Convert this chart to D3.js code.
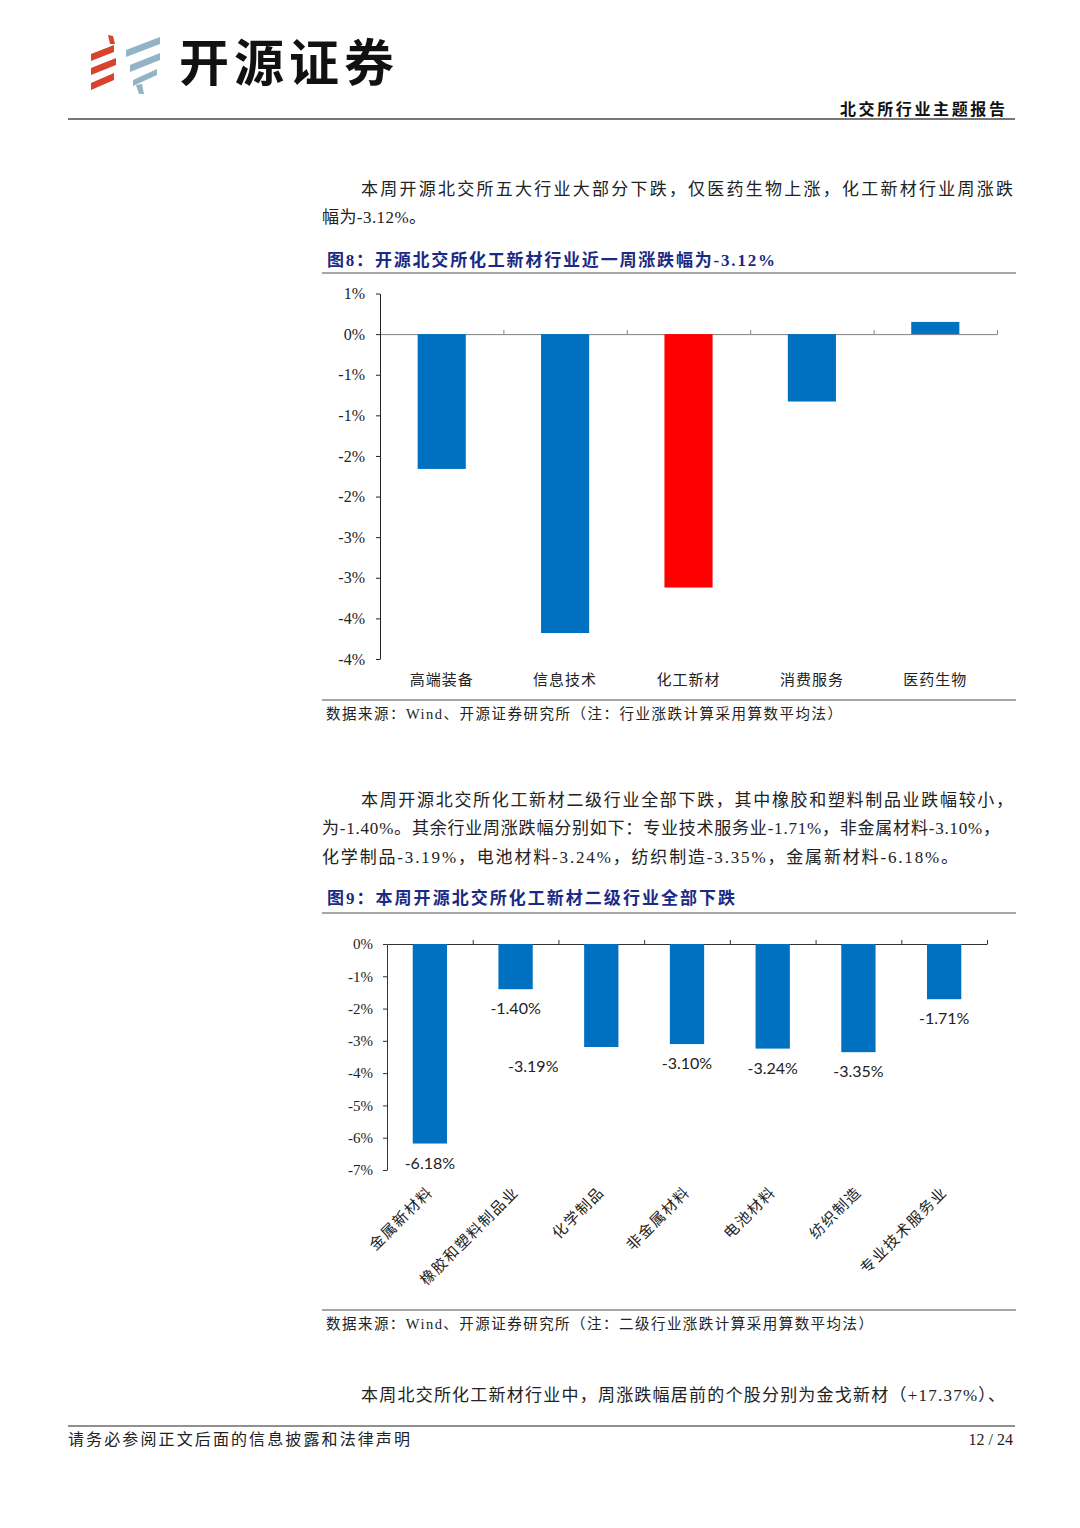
<!DOCTYPE html>
<html>
<head>
<meta charset="utf-8">
<script src="https://cdn.jsdelivr.net/npm/d3@7.9.0/dist/d3.min.js"></script>
<style>
  html, body { margin: 0; padding: 0; background: #fff; }
  svg { display: block; }
</style>
</head>
<body>
<svg id="page" width="1080" height="1528"></svg>
<script>
// chart 8: five sectors, weekly change in %
const sectors = ['高端装备', '信息技术', '化工新材', '消费服务', '医药生物'];
const sectorChange = [-1.66, -3.68, -3.12, -0.83, 0.15];
const sectorTicks = [0.5, 0, -0.5, -1, -1.5, -2, -2.5, -3, -3.5, -4];

// chart 9: sub-sectors of 化工新材, weekly change in %
const subSectors = ['金属新材料', '橡胶和塑料制品业', '化学制品', '非金属材料', '电池材料', '纺织制造', '专业技术服务业'];
const subChange = [-6.18, -1.40, -3.19, -3.10, -3.24, -3.35, -1.71];
const subTicks = [0, -1, -2, -3, -4, -5, -6, -7];

const highlight = '化工新材';
// the 化学制品 data label sits off to the left in the original
const labelShift = { '化学制品': -68 };

const svg = d3.select('#page');
const serif = "'Liberation Serif','Noto Sans CJK SC',serif";
const navy = '#1B2A84';
const blue = '#0070C0';

function rule(x1, y1, x2, y2, stroke, w) {
  svg.append('line')
    .attr('x1', x1).attr('y1', y1).attr('x2', x2).attr('y2', y2)
    .attr('stroke', stroke).attr('stroke-width', w);
}

function text(str, x, y, o = {}) {
  const t = svg.append('text')
    .attr('x', x).attr('y', y + 2)
    .attr('font-family', o.family || serif)
    .attr('font-size', o.size || 17)
    .attr('font-weight', o.weight || 'normal')
    .attr('fill', o.fill || '#222')
    .attr('text-anchor', o.anchor || 'start')
    .attr('dominant-baseline', 'middle')
    .text(str);
  if (o.len) t.attr('textLength', o.len).attr('lengthAdjust', 'spacing');
  return t;
}

// ---- header / logo
function band(x0, y0, x1, y1, t, fill) {
  svg.append('path')
    .attr('d', `M${x0},${y0}L${x1},${y1}L${x1},${y1 + t}L${x0},${y0 + t}Z`)
    .attr('fill', fill);
}
const red = '#D8432E', grey = '#93B3C6';
svg.append('path').attr('d', 'M108,35L113,36L115,44L110,44Z').attr('fill', red);
band(91, 54, 114, 45, 7, red);
band(91, 68, 116, 58, 7, red);
band(91, 83, 114, 73, 7, red);
band(126, 50, 160, 37, 7, grey);
band(130, 65, 160, 53, 7, grey);
band(133, 80, 157, 69, 6, grey);
svg.append('path').attr('d', 'M136,85L142,84L144,94L139,94Z').attr('fill', grey);

text('开源证券', 179, 65, { size: 50, weight: 'bold', fill: '#111', len: 215, family: "'Noto Sans CJK SC',sans-serif" });
text('北交所行业主题报告', 1005, 109, { size: 16, weight: 'bold', fill: '#111', anchor: 'end', len: 165 });
rule(68, 119, 1015, 119, '#777', 2);

// ---- paragraph 1
text('本周开源北交所五大行业大部分下跌，仅医药生物上涨，化工新材行业周涨跌', 361, 189, { len: 652 });
text('幅为-3.12%。', 322, 217, { len: 104 });

// ---- figure 8
text('图8：开源北交所化工新材行业近一周涨跌幅为-3.12%', 327, 260, { size: 17, weight: 'bold', fill: navy, len: 448 });
rule(322, 273, 1016, 273, '#888', 1.5);

{
  const x = d3.scaleBand().domain(sectors).range([380, 997]).paddingInner(0.61).paddingOuter(0.305);
  const y = d3.scaleLinear().domain([-4, 0.5]).range([659, 293.5]);
  const pct = v => (v < 0 ? '-' : '') + Math.round(Math.abs(v)) + '%';

  const bounds = d3.scaleLinear().domain([0, sectors.length]).range([380, 997]);
  const gx = svg.append('g').attr('transform', `translate(0,${y(0)})`)
    .call(d3.axisTop(bounds).tickValues(d3.range(1, sectors.length + 1)).tickSize(4).tickSizeOuter(0).tickFormat(''));
  gx.selectAll('path, line').attr('stroke', '#808080');

  svg.append('g').selectAll('rect').data(sectors).join('rect')
    .attr('x', d => x(d))
    .attr('width', x.bandwidth())
    .attr('y', (d, i) => y(Math.max(0, sectorChange[i])))
    .attr('height', (d, i) => Math.abs(y(sectorChange[i]) - y(0)))
    .attr('fill', d => d === highlight ? '#FF0000' : blue);

  const gy = svg.append('g').attr('transform', 'translate(380,0)')
    .call(d3.axisLeft(y).tickValues(sectorTicks).tickSize(4).tickSizeOuter(0).tickFormat(pct));
  gy.selectAll('path, line').attr('stroke', '#222');
  gy.selectAll('text').attr('font-family', serif).attr('font-size', 16).attr('fill', '#222').attr('x', -15);

  svg.append('g').selectAll('text').data(sectors).join('text')
    .attr('x', d => x(d) + x.bandwidth() / 2)
    .attr('y', 682)
    .attr('text-anchor', 'middle')
    .attr('dominant-baseline', 'middle')
    .attr('font-family', serif)
    .attr('font-size', 15)
    .attr('letter-spacing', 1)
    .attr('fill', '#222')
    .text(d => d);
}

rule(322, 700, 1016, 700, '#888', 1.5);
text('数据来源：Wind、开源证券研究所（注：行业涨跌计算采用算数平均法）', 326, 714, { size: 14.5, len: 516 });

// ---- paragraph 2
text('本周开源北交所化工新材二级行业全部下跌，其中橡胶和塑料制品业跌幅较小，', 361, 800, { len: 652 });
text('为-1.40%。其余行业周涨跌幅分别如下：专业技术服务业-1.71%，非金属材料-3.10%，', 322, 828, { len: 678 });
text('化学制品-3.19%，电池材料-3.24%，纺织制造-3.35%，金属新材料-6.18%。', 322, 857, { len: 636 });

// ---- figure 9
text('图9：本周开源北交所化工新材二级行业全部下跌', 327, 898, { size: 17, weight: 'bold', fill: navy, len: 408 });
rule(322, 913, 1016, 913, '#888', 1.5);

{
  const x = d3.scaleBand().domain(subSectors).range([387, 987]).paddingInner(0.6).paddingOuter(0.3);
  const y = d3.scaleLinear().domain([-7, 0]).range([1170, 944]);

  const bounds = d3.scaleLinear().domain([0, subSectors.length]).range([387, 987]);
  const gx = svg.append('g').attr('transform', `translate(0,${y(0)})`)
    .call(d3.axisTop(bounds).tickValues(d3.range(1, subSectors.length + 1)).tickSize(4).tickSizeOuter(0).tickFormat(''));
  gx.selectAll('path, line').attr('stroke', '#333');

  svg.append('g').selectAll('rect').data(subSectors).join('rect')
    .attr('x', d => x(d))
    .attr('width', x.bandwidth())
    .attr('y', y(0))
    .attr('height', (d, i) => y(subChange[i]) - y(0))
    .attr('fill', blue);

  const gy = svg.append('g').attr('transform', 'translate(387,0)')
    .call(d3.axisLeft(y).tickValues(subTicks).tickSize(4).tickSizeOuter(0).tickFormat(v => v + '%'));
  gy.selectAll('path, line').attr('stroke', '#333');
  gy.selectAll('text').attr('font-family', serif).attr('font-size', 15).attr('fill', '#222').attr('x', -14);

  svg.append('g').selectAll('text').data(subSectors).join('text')
    .attr('x', d => x(d) + x.bandwidth() / 2 + (labelShift[d] || 0))
    .attr('y', (d, i) => y(subChange[i]) + 21)
    .attr('text-anchor', 'middle')
    .attr('dominant-baseline', 'middle')
    .attr('font-family', "Lato,'Open Sans',sans-serif")
    .attr('font-size', 16)
    .attr('fill', '#222')
    .text((d, i) => subChange[i].toFixed(2) + '%');

  svg.append('g').selectAll('text').data(subSectors).join('text')
    .attr('transform', d => `translate(${x(d) + x.bandwidth() / 2 + 4},1193) rotate(-45)`)
    .attr('text-anchor', 'end')
    .attr('font-family', serif)
    .attr('font-size', 15)
    .attr('letter-spacing', 1.5)
    .attr('fill', '#222')
    .text(d => d);
}

rule(322, 1310, 1016, 1310, '#888', 1.5);
text('数据来源：Wind、开源证券研究所（注：二级行业涨跌计算采用算数平均法）', 326, 1324, { size: 14.5, len: 547 });

// ---- paragraph 3
text('本周北交所化工新材行业中，周涨跌幅居前的个股分别为金戈新材（+17.37%）、', 361, 1395, { len: 644 });

// ---- footer
rule(68, 1426, 1015, 1426, '#222', 1);
text('请务必参阅正文后面的信息披露和法律声明', 68, 1439, { size: 16, len: 342 });
text('12 / 24', 1013, 1439, { size: 16, anchor: 'end' });
</script>
</body>
</html>
